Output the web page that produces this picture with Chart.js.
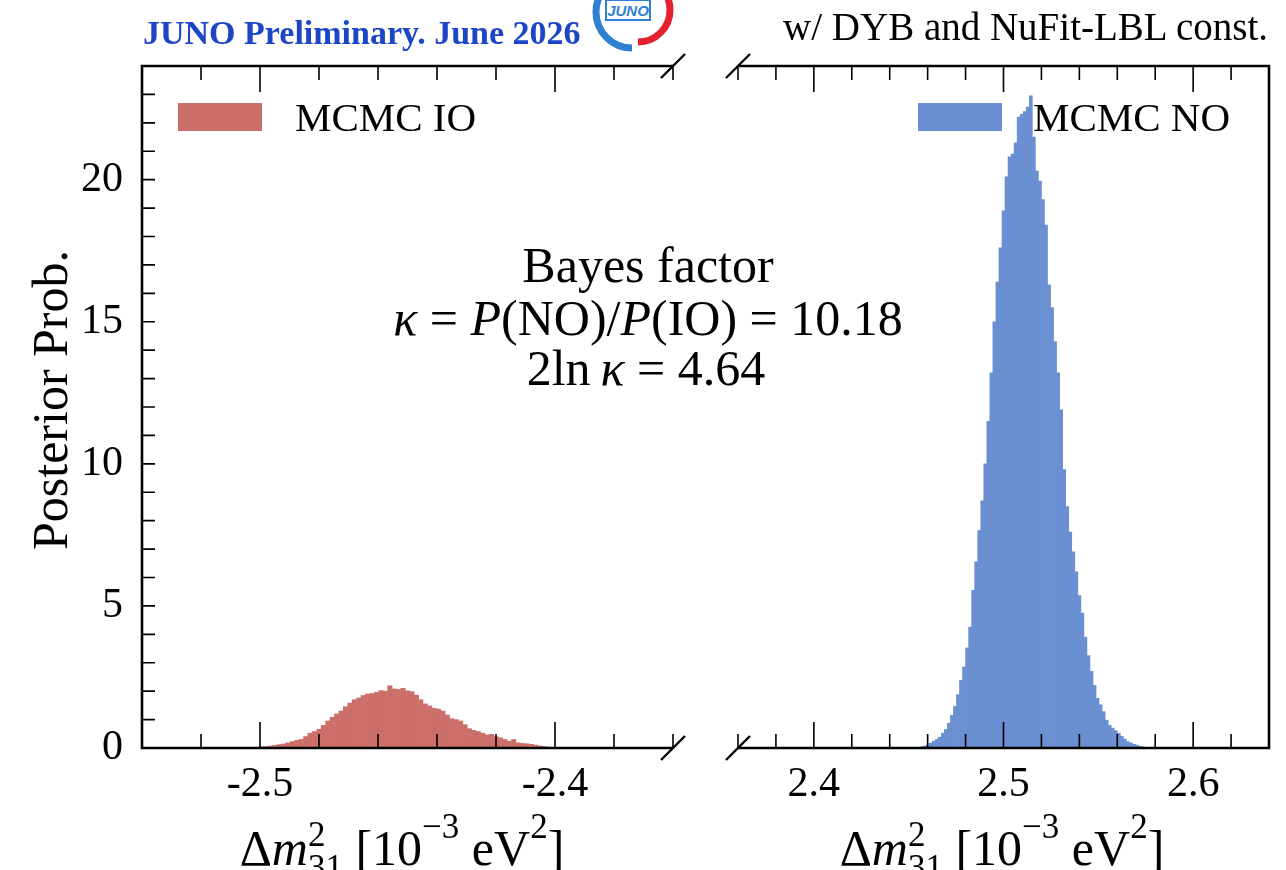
<!DOCTYPE html>
<html>
<head>
<meta charset="utf-8">
<script src="https://cdn.jsdelivr.net/npm/chart.js@4.4.1/dist/chart.umd.min.js"></script>
<style>
  html, body { margin: 0; padding: 0; background: #fff; }
  #wrap { position: relative; width: 1286px; height: 870px; overflow: hidden;
          font-family: "Liberation Serif", "DejaVu Serif", serif; color: #000; }
  #wrap canvas { position: absolute; left: 0; top: 0; }
  .txt { position: absolute; white-space: nowrap; line-height: 1; }
  .ss { display: inline-block; font-size: 0.7em; line-height: 0.95; vertical-align: -0.42em; text-align: left; }
  sup { font-size: 0.7em; line-height: 0; vertical-align: 0.75em; }
</style>
</head>
<body>
<div id="wrap">
  <canvas id="ioChart" width="1286" height="870"></canvas>
  <canvas id="noChart" width="1286" height="870"></canvas>

  <div class="txt" style="left:143px; top:16px; font-size:34px; font-weight:bold; color:#1c45c8;">JUNO Preliminary. June 2026</div>
  <svg style="position:absolute; left:592px; top:0;" width="82" height="52">
    <path d="M 40 -24 A 36 36 0 0 0 40 48" stroke="#2f80d2" stroke-width="7" fill="none"/>
    <path d="M 46 -22 A 30 30 0 0 1 46 42" stroke="#e3202e" stroke-width="7" fill="none"/>
    <rect x="14" y="0" width="44" height="20" fill="#fff" stroke="#2f80d2" stroke-width="2"/>
    <text x="36" y="16" font-size="15" font-style="italic" font-weight="bold" fill="#2f80d2" text-anchor="middle" font-family="Liberation Sans">JUNO</text>
  </svg>
  <div class="txt" style="right:18px; top:7px; font-size:39px;">w/ DYB and NuFit-LBL const.</div>

  <div class="txt" style="left:648px; top:240px; font-size:50px; transform:translateX(-50%);">Bayes factor</div>
  <div class="txt" style="left:648px; top:293px; font-size:50px; transform:translateX(-50%);"><i>κ</i> = <i>P</i>(NO)/<i>P</i>(IO) = 10.18</div>
  <div class="txt" style="left:646px; top:343px; font-size:50px; transform:translateX(-50%);">2ln&thinsp;<i>κ</i> = 4.64</div>

  <div class="txt" style="left:50px; top:400px; font-size:50px; transform:translate(-50%,-50%) rotate(-90deg);">Posterior Prob.</div>
  <div class="txt" style="left:402px; top:818px; font-size:50px; transform:translateX(-50%);">Δ<i>m</i><span class="ss">2<br>31</span> [10<sup>−3</sup> eV<sup>2</sup>]</div>
  <div class="txt" style="left:1002px; top:818px; font-size:50px; transform:translateX(-50%);">Δ<i>m</i><span class="ss">2<br>31</span> [10<sup>−3</sup> eV<sup>2</sup>]</div>
</div>

<script>
// histogram bins (bin centres start + i*width), heights
var ioFirstBin = -2.5010;
var ioBinWidth = 0.0015;
var ioValues = [0.02, 0.04, 0.05, 0.07, 0.09, 0.12, 0.14, 0.18, 0.23, 0.27,
  0.30, 0.40, 0.52, 0.58, 0.66, 0.80, 0.95, 1.08, 1.20, 1.30,
  1.45, 1.58, 1.70, 1.76, 1.85, 1.90, 1.92, 1.96, 2.02, 2.00,
  2.19, 2.08, 2.06, 2.10, 2.01, 1.98, 1.86, 1.70, 1.55, 1.48,
  1.40, 1.37, 1.30, 1.16, 1.03, 1.00, 0.95, 0.82, 0.68, 0.62,
  0.58, 0.52, 0.46, 0.48, 0.40, 0.36, 0.30, 0.24, 0.30, 0.18,
  0.16, 0.15, 0.13, 0.10, 0.07, 0.05, 0.03, 0.02, 0.01];

var noFirstBin = 2.4568;
var noBinWidth = 0.0016;
var noValues = [0.04, 0.07, 0.10, 0.17, 0.24, 0.30, 0.38, 0.52, 0.65, 0.87,
  1.15, 1.46, 1.88, 2.38, 2.85, 3.52, 4.25, 5.55, 6.55, 7.65,
  8.7, 10.0, 11.5, 13.2, 15.0, 16.4, 17.6, 18.9, 20.1, 20.8,
  20.9, 21.3, 22.2, 22.3, 22.4, 22.55, 22.95, 21.5, 20.3, 19.95,
  19.3, 18.4, 16.3, 15.5, 14.3, 13.2, 11.9, 9.8, 8.5, 7.6,
  6.9, 6.2, 5.36, 4.75, 3.9, 3.25, 2.7, 2.2, 1.75, 1.52,
  1.28, 0.98, 0.80, 0.70, 0.61, 0.52, 0.41, 0.31, 0.22, 0.18,
  0.13, 0.10, 0.06, 0.04, 0.02];

var ioLabel = 'MCMC IO';
var noLabel = 'MCMC NO';
var ioRange = [-2.54, -2.36];
var noRange = [2.36, 2.64];
var ioTicks = [-2.5, -2.4];
var noTicks = [2.4, 2.5, 2.6];
var yRange = [0, 24];
var yTicks = [0, 5, 10, 15, 20];

var FONT = '"Liberation Serif", "DejaVu Serif", serif';

function toPoints(first, width, values) {
  return values.map(function(v, i) {
    return { x: first + i * width, y: v };
  });
}

// spines, inward ticks, axis-break marks and the legend box
var panelFrame = {
  id: 'panelFrame',
  afterDraw: function(chart, args, opts) {
    var ctx = chart.ctx;
    var a = chart.chartArea;
    var xs = chart.scales.x;
    var ys = chart.scales.y;
    ctx.save();
    ctx.strokeStyle = '#000';
    ctx.lineWidth = 2.6;
    ctx.beginPath();
    if (opts.side === 'left') {
      ctx.moveTo(a.right, a.top); ctx.lineTo(a.left, a.top);
      ctx.lineTo(a.left, a.bottom); ctx.lineTo(a.right, a.bottom);
    } else {
      ctx.moveTo(a.left, a.top); ctx.lineTo(a.right, a.top);
      ctx.lineTo(a.right, a.bottom); ctx.lineTo(a.left, a.bottom);
    }
    ctx.stroke();

    var bx = opts.side === 'left' ? a.right : a.left;
    ctx.lineWidth = 2.4;
    ctx.beginPath();
    [a.top, a.bottom].forEach(function(by) {
      ctx.moveTo(bx - 12, by + 12);
      ctx.lineTo(bx + 12, by - 12);
    });
    ctx.stroke();

    // x ticks every 0.02, longer on labelled values
    ctx.lineWidth = 1.6;
    ctx.beginPath();
    var n = Math.round((xs.max - xs.min) / 0.02);
    for (var i = 0; i <= n; i++) {
      var v = xs.min + i * 0.02;
      var major = opts.majors.some(function(m) { return Math.abs(m - v) < 1e-6; });
      var len = major ? 26 : 14;
      var px = xs.getPixelForValue(v);
      ctx.moveTo(px, a.bottom); ctx.lineTo(px, a.bottom - len);
      ctx.moveTo(px, a.top); ctx.lineTo(px, a.top + len);
    }
    if (opts.side === 'left') {
      for (var k = ys.min; k <= ys.max; k++) {
        var py = ys.getPixelForValue(k);
        ctx.moveTo(a.left, py); ctx.lineTo(a.left + 13, py);
      }
    }
    ctx.stroke();

    var ds = chart.data.datasets[0];
    var lg = opts.legend;
    ctx.fillStyle = ds.backgroundColor;
    ctx.fillRect(lg.x, lg.y, 84, 28);
    ctx.fillStyle = '#000';
    ctx.font = '41px ' + FONT;
    ctx.textBaseline = 'alphabetic';
    ctx.fillText(ds.label, lg.textX, lg.y + 28);
    ctx.restore();
  }
};

function makeChart(id, label, color, points, range, ticks, side, padLeft, padRight, legend) {
  var showY = side === 'left';
  return new Chart(document.getElementById(id), {
    type: 'bar',
    data: {
      datasets: [{
        label: label,
        data: points,
        backgroundColor: color,
        borderWidth: 0,
        barPercentage: 1,
        categoryPercentage: 1,
        grouped: false
      }]
    },
    options: {
      responsive: false,
      animation: false,
      devicePixelRatio: 1,
      layout: { padding: { left: padLeft, right: padRight, top: 66, bottom: 0 } },
      plugins: {
        legend: { display: false },
        tooltip: { enabled: false },
        panelFrame: { side: side, majors: ticks, legend: legend }
      },
      scales: {
        x: {
          type: 'linear',
          min: range[0],
          max: range[1],
          offset: false,
          grid: { display: false, drawTicks: false },
          border: { display: false },
          afterBuildTicks: function(s) { s.ticks = ticks.map(function(v) { return { value: v }; }); },
          afterFit: function(s) { s.height = 122; },
          ticks: {
            color: '#000',
            padding: 12,
            maxRotation: 0,
            autoSkip: false,
            font: { family: FONT, size: 42 },
            callback: function(v) { return v.toFixed(1); }
          }
        },
        y: {
          display: showY,
          min: yRange[0],
          max: yRange[1],
          grid: { display: false, drawTicks: false },
          border: { display: false },
          afterBuildTicks: function(s) { s.ticks = yTicks.map(function(v) { return { value: v }; }); },
          afterFit: function(s) { s.width = showY ? 142 : 0; },
          ticks: {
            color: '#000',
            padding: 19,
            font: { family: FONT, size: 42 },
            callback: function(v) { return String(v); }
          }
        }
      }
    },
    plugins: [panelFrame]
  });
}

makeChart('ioChart', ioLabel, '#cc6f6b', toPoints(ioFirstBin, ioBinWidth, ioValues),
  ioRange, ioTicks, 'left', 0, 1286 - 673, { x: 178, y: 103, textX: 295 });
makeChart('noChart', noLabel, '#6a8fd2', toPoints(noFirstBin, noBinWidth, noValues),
  noRange, noTicks, 'right', 738, 1286 - 1269, { x: 918, y: 103, textX: 1033 });
</script>
</body>
</html>
